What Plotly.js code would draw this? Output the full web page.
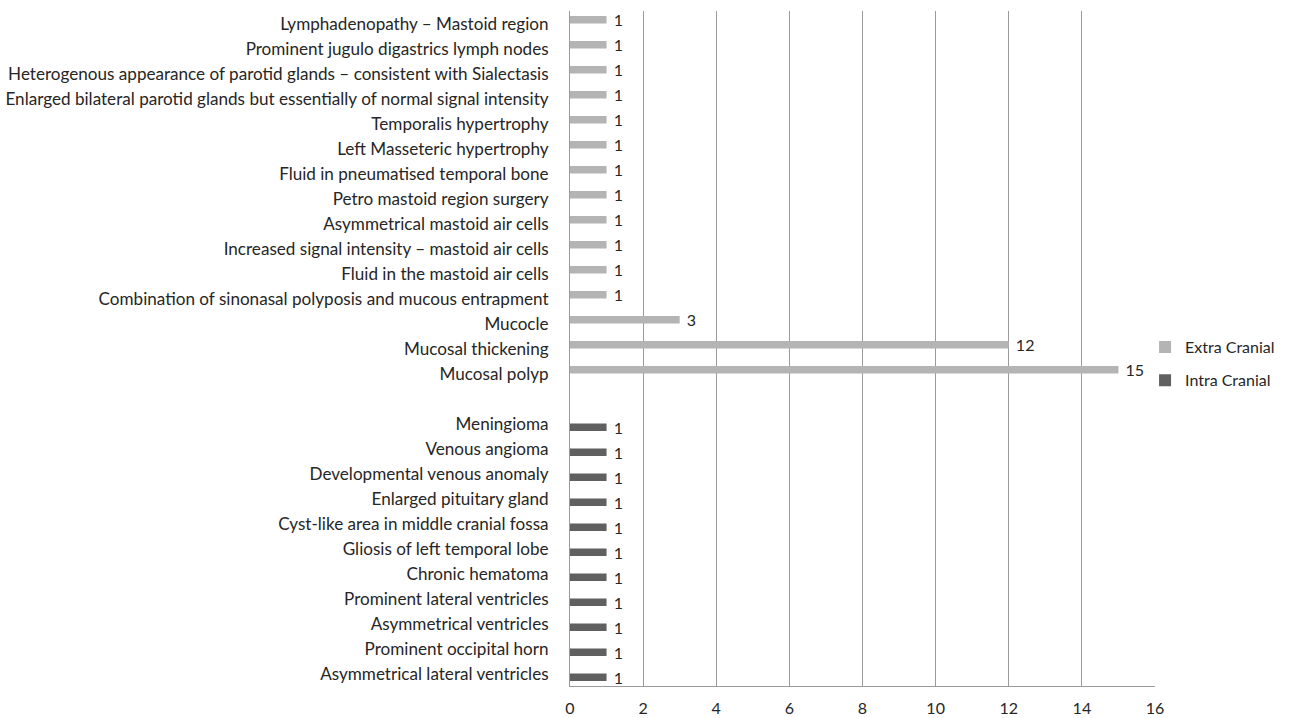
<!DOCTYPE html>
<html>
<head>
<meta charset="utf-8">
<script src="https://cdn.plot.ly/plotly-3.0.1.min.js"></script>
<style>html,body{margin:0;padding:0;background:#fff;}#chart{width:1309px;height:718px;}</style>
</head>
<body>
<div id="chart"></div>
<script>
// Extra cranial findings (top to bottom as in chart)
const extraCategories = [
  "Lymphadenopathy – Mastoid region",
  "Prominent jugulo digastrics lymph nodes",
  "Heterogenous appearance of parotid glands – consistent with Sialectasis",
  "Enlarged bilateral parotid glands but essentially of normal signal intensity",
  "Temporalis hypertrophy",
  "Left Masseteric hypertrophy",
  "Fluid in pneumatised temporal bone",
  "Petro mastoid region surgery",
  "Asymmetrical mastoid air cells",
  "Increased signal intensity – mastoid air cells",
  "Fluid in the mastoid air cells",
  "Combination of sinonasal polyposis and mucous entrapment",
  "Mucocle",
  "Mucosal thickening",
  "Mucosal polyp"
];
const extraValues = [1,1,1,1,1,1,1,1,1,1,1,1,3,12,15];

// Intra cranial findings (top to bottom as in chart)
const intraCategories = [
  "Meningioma",
  "Venous angioma",
  "Developmental venous anomaly",
  "Enlarged pituitary gland",
  "Cyst-like area in middle cranial fossa",
  "Gliosis of left temporal lobe",
  "Chronic hematoma",
  "Prominent lateral ventricles",
  "Asymmetrical ventricles",
  "Prominent occipital horn",
  "Asymmetrical lateral ventricles"
];
const intraValues = [1,1,1,1,1,1,1,1,1,1,1];

const spacerCategory = " ";
const xTicks = [0,2,4,6,8,10,12,14,16];

// bottom-to-top category order
const categoryOrder = [...intraCategories].reverse()
  .concat([spacerCategory])
  .concat([...extraCategories].reverse());

const fontFam = "Lato, 'Open Sans', sans-serif";
const txtColor = "#262626";

const traces = [
  {
    type: "bar", orientation: "h", name: "Intra Cranial",
    y: intraCategories, x: intraValues,
    width: 0.3, offset: -0.3,
    marker: {color: "#606060"},
    text: intraValues.map(v => "\u00a0" + v), textposition: "outside",
    constraintext: "none",
    textfont: {family: fontFam, size: 16, color: txtColor},
    cliponaxis: false, hoverinfo: "x+y",
    legend: "legend2"
  },
  {
    type: "bar", orientation: "h", name: "Extra Cranial",
    y: extraCategories, x: extraValues,
    width: 0.3, offset: 0,
    marker: {color: "#b4b4b4"},
    text: extraValues.map(v => "\u00a0" + v), textposition: "outside",
    constraintext: "none",
    textfont: {family: fontFam, size: 16, color: txtColor},
    cliponaxis: false, hoverinfo: "x+y",
    legend: "legend"
  }
];

const legendCommon = {
  xanchor: "left", yanchor: "middle",
  font: {family: fontFam, size: 16, color: txtColor},
  itemwidth: 30, bgcolor: "rgba(0,0,0,0)"
};

const layout = {
  width: 1309, height: 718,
  margin: {l: 570, r: 154, t: 11, b: 32, pad: 0},
  paper_bgcolor: "#fff", plot_bgcolor: "#fff",
  font: {family: fontFam, size: 16, color: txtColor},
  barmode: "overlay",
  showlegend: true,
  legend: Object.assign({x: 0.983, y: 0.502}, legendCommon),
  legend2: Object.assign({x: 0.983, y: 0.453}, legendCommon),
  xaxis: {
    range: [0, 16],
    tickmode: "array", tickvals: xTicks, ticktext: xTicks.map(String),
    showgrid: true, gridcolor: "#9a9a9a", gridwidth: 1,
    showline: true, linecolor: "#9a9a9a", linewidth: 1,
    zeroline: false,
    ticks: "", ticklabelstandoff: 8,
    tickfont: {family: fontFam, size: 16, color: txtColor},
    fixedrange: true
  },
  yaxis: {
    type: "category",
    categoryorder: "array", categoryarray: categoryOrder,
    range: [-0.5, categoryOrder.length - 0.5],
    showgrid: false, zeroline: false,
    showline: true, linecolor: "#9a9a9a", linewidth: 1,
    ticks: "", ticklabelstandoff: 17,
    tickfont: {family: fontFam, size: 17.1, color: txtColor},
    fixedrange: true
  }
};

Plotly.newPlot("chart", traces, layout, {displayModeBar: false, staticPlot: true});
</script>
</body>
</html>
